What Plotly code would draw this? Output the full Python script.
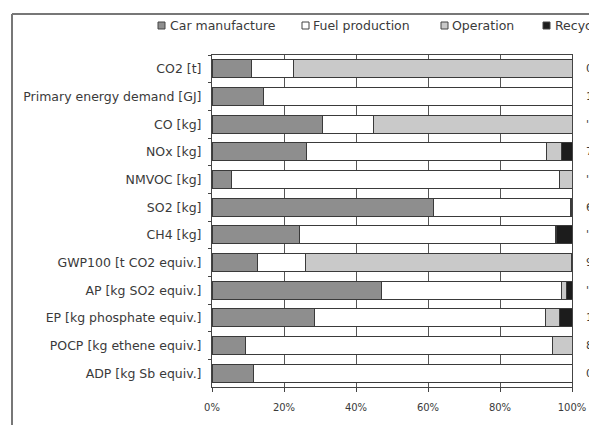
import plotly.graph_objects as go

categories = ["CO2 [t]", "Primary energy demand [GJ]", "CO [kg]", "NOx [kg]", "NMVOC [kg]",
              "SO2 [kg]", "CH4 [kg]", "GWP100 [t CO2 equiv.]", "AP [kg SO2 equiv.]",
              "EP [kg phosphate equiv.]", "POCP [kg ethene equiv.]", "ADP [kg Sb equiv.]"]
car_manufacture = [11.1, 14.3, 30.8, 26.2, 5.5, 61.5, 24.2, 12.7, 47.2, 28.4, 9.2, 11.5]
fuel_production = [11.4, 85.7, 14.1, 66.8, 91.0, 38.2, 71.1, 13.3, 49.8, 64.2, 85.5, 88.5]
operation = [77.5, 0, 55.1, 4.2, 3.5, 0.2, 0.3, 73.8, 1.5, 3.9, 5.3, 0]
recycling = [0, 0, 0, 2.8, 0, 0.1, 4.4, 0.2, 1.5, 3.5, 0, 0]
right_labels = ["0", "1", "'", "7", "'", "6", "'", "9", "'", "1", "8", "0"]
series_names = ["Car manufacture", "Fuel production", "Operation", "Recycling"]
series_colors = ["#8e8e8e", "#ffffff", "#c9c9c9", "#1c1c1c"]
x_tickvals = [0, 20, 40, 60, 80, 100]
x_ticktext = ["0%", "20%", "40%", "60%", "80%", "100%"]

FONT = "DejaVu Sans, Verdana, sans-serif"
TXT = "#3a3a3a"

fig = go.Figure()
for name, vals, col in zip(series_names,
                           [car_manufacture, fuel_production, operation, recycling],
                           series_colors):
    fig.add_trace(go.Bar(y=categories, x=vals, orientation="h", name=name,
                         marker=dict(color=col, line=dict(color="#3a3a3a", width=1)),
                         showlegend=False))

W, H = 589, 425
L, R, T, B = 212, 17, 55, 38
pw = W - L - R
ph = H - T - B

fig.update_layout(
    template="none",
    width=W, height=H, barmode="stack", bargap=0.35,
    margin=dict(l=L, r=R, t=T, b=B, pad=0),
    paper_bgcolor="white", plot_bgcolor="white",
    font=dict(family=FONT, size=11, color=TXT),
)
fig.update_xaxes(range=[0, 100], tickvals=x_tickvals, ticktext=x_ticktext,
                 showgrid=True, gridcolor="#555555", gridwidth=1,
                 showline=True, linecolor="#444444", linewidth=1, mirror=True,
                 ticks="outside", ticklen=4, tickcolor="#444444", zeroline=False,
                 ticklabelstandoff=7,
                 tickfont=dict(family=FONT, size=10, color=TXT))
fig.update_yaxes(autorange="reversed", showline=True, linecolor="#444444", linewidth=1,
                 mirror=True, ticks="outside", tickson="boundaries", ticklen=3,
                 tickcolor="#444444", showgrid=False, zeroline=False,
                 ticklabelstandoff=7,
                 tickfont=dict(family=FONT, size=12.5, color=TXT))


def px_x(p):
    return (p - L) / pw


def px_y(p):
    return 1 - (p - T) / ph


# right-side (cut off) value labels
for cat, lab in zip(categories, right_labels):
    fig.add_annotation(x=px_x(585), xref="paper", y=cat, yref="y", text=lab,
                       showarrow=False, xanchor="left", borderpad=0,
                       font=dict(family=FONT, size=11, color=TXT))

# manual legend (cut off at right like the reference)
legend_swatch_x = [158, 302, 441, 543]
legend_text_x = [169, 312, 451, 554]
for name, col, sx, tx in zip(series_names, series_colors, legend_swatch_x, legend_text_x):
    fig.add_shape(type="rect", xref="paper", yref="paper",
                  x0=px_x(sx), x1=px_x(sx + 7), y0=px_y(29), y1=px_y(22),
                  fillcolor=col, line=dict(color="#444444", width=1))
    fig.add_annotation(x=px_x(tx), y=px_y(25.5), xref="paper", yref="paper", text=name,
                       showarrow=False, xanchor="left", yanchor="middle", borderpad=0,
                       font=dict(family=FONT, size=12.5, color=TXT))

# outer frame (left and top edges)
fig.add_shape(type="line", xref="paper", yref="paper",
              x0=px_x(12), x1=px_x(12), y0=px_y(14), y1=px_y(430),
              line=dict(color="#777777", width=2))
fig.add_shape(type="line", xref="paper", yref="paper",
              x0=px_x(12), x1=px_x(600), y0=px_y(14), y1=px_y(14),
              line=dict(color="#777777", width=2))

fig.write_html("out.html", config={"displayModeBar": False},
               post_script="document.body.style.margin='0';")
